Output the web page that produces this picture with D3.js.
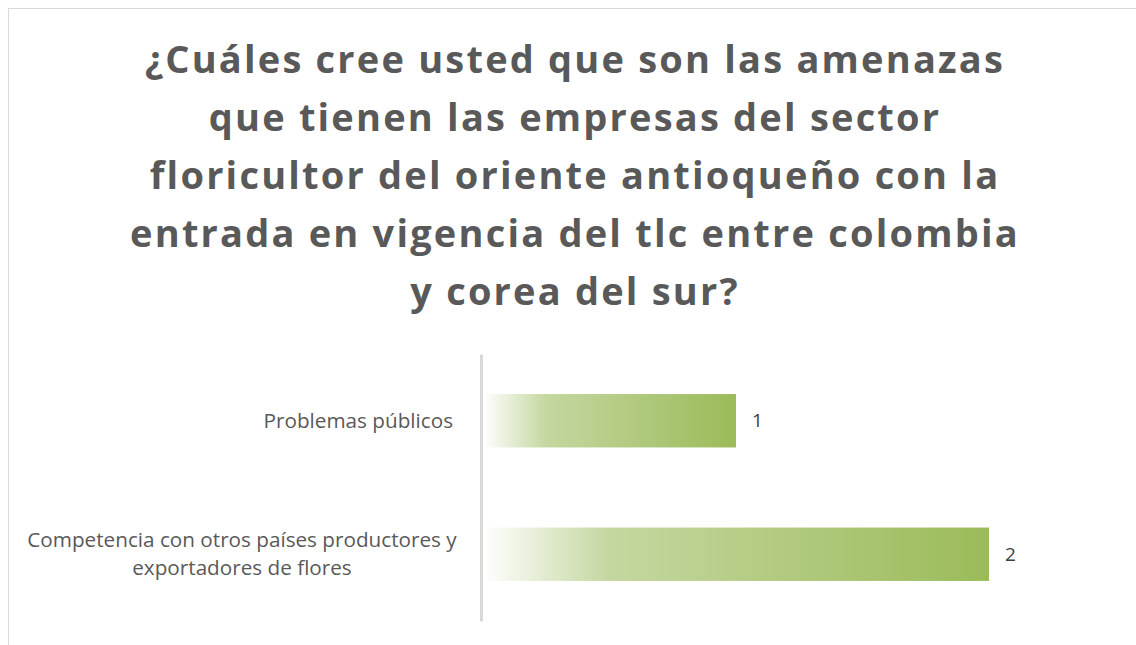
<!DOCTYPE html>
<html>
<head>
<meta charset="utf-8">
<script src="https://cdn.jsdelivr.net/npm/d3@7"></script>
<style>
  body { margin: 0; background: #fff; }
</style>
</head>
<body>
<div id="chart"></div>
<script>
const titleLines = [
  "¿Cuáles cree usted que son las amenazas",
  "que tienen las empresas del sector",
  "floricultor del oriente antioqueño con la",
  "entrada en vigencia del tlc entre colombia",
  "y corea del sur?"
];
const categories = [
  "Problemas públicos",
  "Competencia con otros países productores y exportadores de flores"
];
const categoryLines = [
  ["Problemas públicos"],
  ["Competencia con otros países productores y", "exportadores de flores"]
];
const values = [1, 2];

const width = 1136, height = 645;
const font = "'Open Sans', sans-serif";

const svg = d3.select("#chart")
  .append("svg")
    .attr("width", width)
    .attr("height", height);

// chart area border (cut by the window on the right and bottom)
svg.append("rect")
  .attr("x", 8.5).attr("y", 8.5)
  .attr("width", 1200).attr("height", 700)
  .attr("fill", "none")
  .attr("stroke", "#d9d9d9");

// bar gradient: white fading to green
const grad = svg.append("defs").append("linearGradient")
  .attr("id", "barGrad")
  .attr("x1", "0%").attr("x2", "100%").attr("y1", "0%").attr("y2", "0%");
grad.append("stop").attr("offset", "0%").attr("stop-color", "#ffffff");
grad.append("stop").attr("offset", "25%").attr("stop-color", "#c4d7a0");
grad.append("stop").attr("offset", "100%").attr("stop-color", "#9bbb59");

// title
const title = svg.append("text")
  .attr("text-anchor", "middle")
  .style("font-family", font)
  .style("font-weight", "bold")
  .style("font-size", "38px")
  .style("letter-spacing", "2.2px")
  .attr("fill", "#595959");
title.selectAll("tspan")
  .data(titleLines)
  .enter()
  .append("tspan")
    .attr("x", 575)
    .attr("y", (d, i) => 73 + i * 58)
    .text(d => d);

const x = d3.scaleLinear().domain([0, 2]).range([483, 989]);
const y = d3.scaleBand()
  .domain(categories)
  .range([354, 621])
  .paddingInner(0.6)
  .paddingOuter(0.3);

// bars
svg.selectAll("rect.bar")
  .data(values)
  .enter()
  .append("rect")
    .attr("class", "bar")
    .attr("x", x(0))
    .attr("y", (d, i) => y(categories[i]))
    .attr("width", d => x(d) - x(0))
    .attr("height", y.bandwidth())
    .attr("fill", "url(#barGrad)");

// category axis
const axis = svg.append("g")
  .attr("transform", `translate(${x(0) - 2},0)`)
  .call(d3.axisLeft(y).tickSize(0).tickFormat(""));
axis.select(".domain")
  .attr("stroke", "#d9d9d9")
  .attr("stroke-width", 3);

// category labels
categoryLines.forEach((lines, i) => {
  const cy = y(categories[i]) + y.bandwidth() / 2;
  const lh = 28;
  const t = svg.append("text")
    .attr("text-anchor", lines.length > 1 ? "middle" : "end")
    .style("font-family", font)
    .style("font-size", "20.7px")
    .attr("fill", "#595959");
  t.selectAll("tspan")
    .data(lines)
    .enter()
    .append("tspan")
      .attr("x", lines.length > 1 ? 242 : 453)
      .attr("y", (d, j) => cy + (j - (lines.length - 1) / 2) * lh)
      .attr("dy", "0.35em")
      .text(d => d);
});

// value labels
svg.selectAll("text.value")
  .data(values)
  .enter()
  .append("text")
    .attr("class", "value")
    .attr("x", d => x(d) + 16)
    .attr("y", (d, i) => y(categories[i]) + y.bandwidth() / 2)
    .attr("dy", "0.35em")
    .style("font-family", font)
    .style("font-size", "19px")
    .attr("fill", "#404040")
    .text(d => d);
</script>
</body>
</html>
